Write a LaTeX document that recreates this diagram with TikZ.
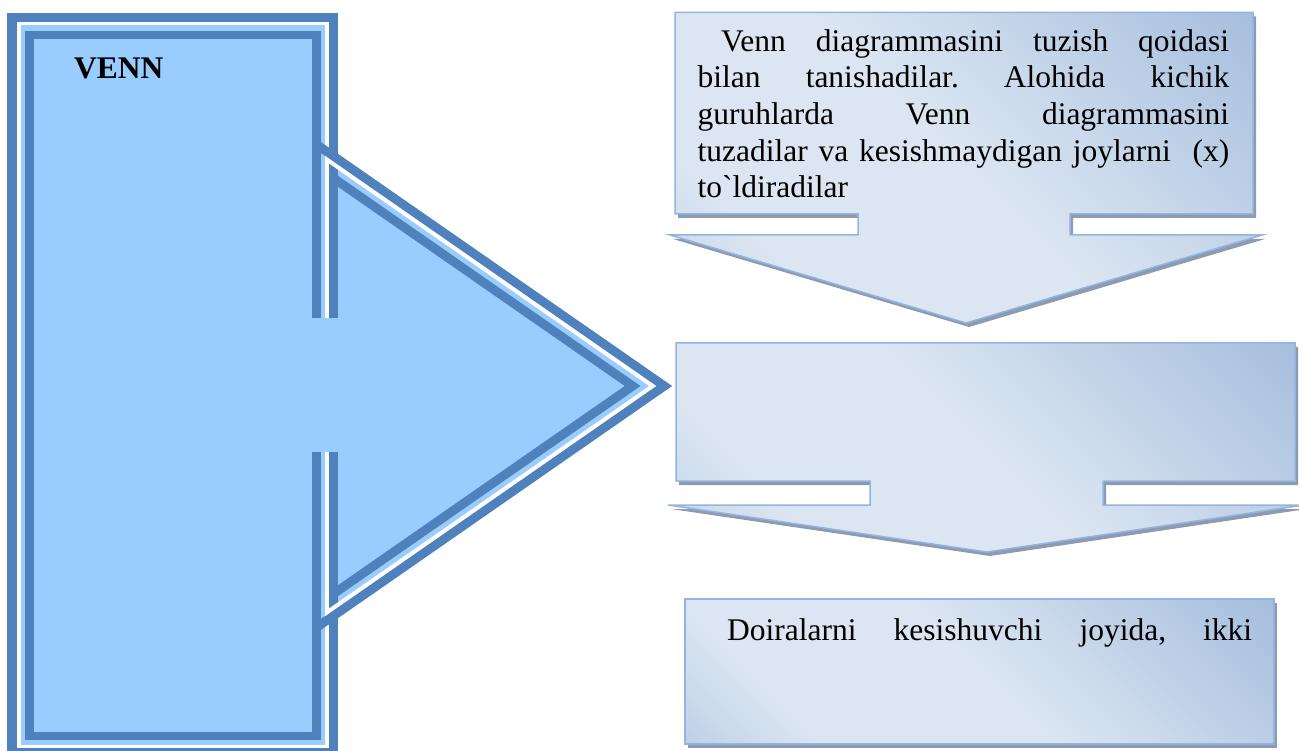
\documentclass[tikz,border=0pt]{standalone}
\usepackage{fontspec}
\setmainfont{Liberation Serif}
\frenchspacing
\definecolor{frameblue}{HTML}{4F81BD}
\definecolor{framefill}{HTML}{99CCFF}
\definecolor{gdark}{HTML}{8EADD4}
\definecolor{glight}{HTML}{DCE6F2}
\definecolor{gmid}{HTML}{9FB9DB}
\definecolor{shadowgray}{HTML}{8C9BB2}
\definecolor{edgeblue}{HTML}{93B4DE}
\pgfdeclarehorizontalshading{calloutshade}{100bp}{color(0bp)=(gmid); color(28bp)=(glight); color(50bp)=(glight); color(100bp)=(gdark)}
\tikzset{
  callout/.style={shade, shading=calloutshade, shading angle=45, draw=edgeblue, line width=1.5},
  calloutshadow/.style={fill=shadowgray},
  outerband/.style={draw=frameblue, line width=9.5},
  gapband/.style={draw=white, line width=3.5},
  innerband/.style={draw=frameblue, line width=8.5},
  txt/.style={anchor=base west, inner sep=0pt, font=\fontsize{31.5}{36}\selectfont},
}
\newcommand\pathcallA{(675,12.5) -- (1253,12.5) -- (1253,214) -- (1070,214) -- (1070,235) -- (1262,235) -- (966,323) -- (670,235) -- (858,235) -- (858,214) -- (675,214) -- cycle}
\newcommand\pathcallB{(676,343) -- (1295,343) -- (1295,481) -- (1103,481) -- (1103,505) -- (1304,505) -- (987,552) -- (668,505) -- (870,505) -- (870,481) -- (676,481) -- cycle}
\newcommand\pathcallC{(685,599) -- (1274,599) -- (1274,744) -- (685,744) -- cycle}
\begin{document}
\begin{tikzpicture}[x=1pt,y=-1pt]
\useasboundingbox (0,0) rectangle (1299,751);
\clip (0,0) rectangle (1299,751);
\fill[white] (0,0) rectangle (1299,751);

% ---- left shape: rectangle with arrow head ----
\fill[framefill] (12,17.5) rectangle (333.5,752.5);
\fill[framefill] (321,142) -- (672,386) -- (321,630) -- cycle;
\draw[outerband] (333.5,452) -- (333.5,752.5) -- (12,752.5) -- (12,17.5) -- (333.5,17.5) -- (333.5,318);
\draw[gapband] (327,452) -- (327,746.5) -- (19,746.5) -- (19,23.5) -- (327,23.5) -- (327,318);
\draw[innerband] (316.5,452) -- (316.5,736) -- (29.5,736) -- (29.5,35) -- (316.5,35) -- (316.5,318);
\begin{scope}
  \clip (321,0) rectangle (700,751);
  \draw[draw=frameblue, line width=9] (300,133) -- (664.1,386) -- (300,639);
\end{scope}
\begin{scope}
  \clip (325,0) rectangle (700,751);
  \draw[draw=white, line width=4] (300,140.9) -- (652.7,386) -- (300,631.1);
\end{scope}
\begin{scope}
  \clip (338,0) rectangle (700,751);
  \draw[draw=frameblue, line width=9] (300,154.9) -- (632.6,386) -- (300,617.1);
\end{scope}
\node[txt, font=\bfseries\fontsize{31.5}{36}\selectfont] (venn) at (74,79) {VENN};

% ---- shadows ----
\begin{scope}[shift={(3,4)}]
  \fill[calloutshadow] \pathcallA;
  \fill[calloutshadow] \pathcallB;
  \fill[calloutshadow] \pathcallC;
\end{scope}
% ---- callouts ----
\path[callout] \pathcallA;
\path[callout] \pathcallB;
\path[callout] \pathcallC;

% ---- texts ----
\node[txt] (a1) at (721,52) {\makebox[508pt][s]{Venn diagrammasini tuzish qoidasi}};
\node[txt] (a2) at (697.5,88) {\makebox[531.5pt][s]{bilan tanishadilar. Alohida kichik}};
\node[txt] (a3) at (697.5,125) {\makebox[531.5pt][s]{guruhlarda Venn diagrammasini}};
\node[txt] (a4) at (697.5,162) {\makebox[531.5pt][s]{tuzadilar va kesishmaydigan joylarni\ \ (x)}};
\node[txt] (a5) at (697.5,198) {to\textasciigrave ldiradilar};
\node[txt] (c1) at (727,640) {\makebox[525pt][s]{Doiralarni kesishuvchi joyida, ikki}};
\end{tikzpicture}
\end{document}
